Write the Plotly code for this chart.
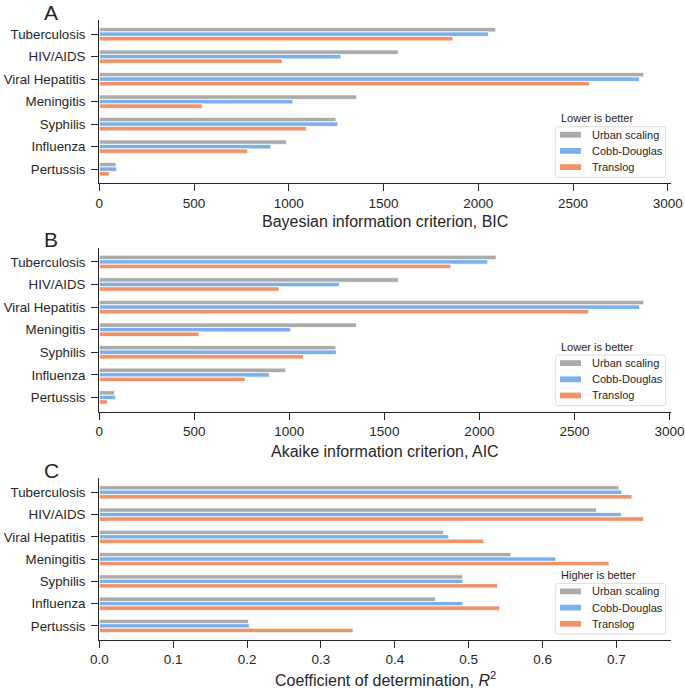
import plotly.graph_objects as go

diseases = ["Tuberculosis", "HIV/AIDS", "Viral Hepatitis", "Meningitis", "Syphilis", "Influenza", "Pertussis"]
models = ["Urban scaling", "Cobb-Douglas", "Translog"]
colors = ["#ababab", "#7bb0ea", "#f0936a"]

bic_urban = [2092, 1577, 2873, 1358, 1249, 988, 88]
bic_cobb = [2053, 1275, 2850, 1021, 1259, 905, 92]
bic_trans = [1866, 965, 2587, 543, 1092, 783, 53]

aic_urban = [2088, 1573, 2865, 1353, 1245, 981, 81]
aic_cobb = [2044, 1263, 2843, 1007, 1247, 894, 85]
aic_trans = [1850, 945, 2575, 524, 1074, 767, 42]

r2_urban = [0.7035, 0.673, 0.466, 0.557, 0.492, 0.455, 0.202]
r2_cobb = [0.707, 0.7065, 0.473, 0.618, 0.492, 0.492, 0.203]
r2_trans = [0.721, 0.737, 0.5205, 0.690, 0.539, 0.542, 0.3435]

panels = [
    ("A", [bic_urban, bic_cobb, bic_trans], "Bayesian information criterion, BIC", "Lower is better", [0, 500, 1000, 1500, 2000, 2500, 3000]),
    ("B", [aic_urban, aic_cobb, aic_trans], "Akaike information criterion, AIC", "Lower is better", [0, 500, 1000, 1500, 2000, 2500, 3000]),
    ("C", [r2_urban, r2_cobb, r2_trans], "Coefficient of determination, <i>R</i><sup>2</sup>", "Higher is better", [0.0, 0.1, 0.2, 0.3, 0.4, 0.5, 0.6, 0.7]),
]

W, H = 685, 692


def PX(px):
    return px / W


def PY(py):
    return 1 - py / H


tops = [20, 247.7, 478.3]
bottoms = [183.3, 411.7, 640]
x_left, x_right = 99.3, 671
xtitle_y = [222, 451, 679]
letter_y = [12.5, 239.5, 470]

FONT = "Liberation Sans, Arial, sans-serif"
TXT = "#262626"

fig = go.Figure()
annotations = []
shapes = []
layout = {}


def rounded_rect(x0, y0, x1, y1, r):
    def p(x, y):
        return f"{PX(x):.5f},{PY(y):.5f}"
    return (f"M {p(x0 + r, y0)} L {p(x1 - r, y0)} Q {p(x1, y0)} {p(x1, y0 + r)} "
            f"L {p(x1, y1 - r)} Q {p(x1, y1)} {p(x1 - r, y1)} "
            f"L {p(x0 + r, y1)} Q {p(x0, y1)} {p(x0, y1 - r)} "
            f"L {p(x0, y0 + r)} Q {p(x0, y0)} {p(x0 + r, y0)} Z")


for i, (letter, series, xtitle, legtitle, ticks) in enumerate(panels):
    ax = "" if i == 0 else str(i + 1)
    for name, vals, col in zip(models, series, colors):
        fig.add_trace(go.Bar(
            x=vals, y=diseases, orientation="h", name=name,
            marker=dict(color=col, line=dict(color="white", width=0.8)),
            xaxis="x" + ax, yaxis="y" + ax, showlegend=False,
        ))
    vmax = max(max(s) for s in series) * 1.05
    layout["xaxis" + ax] = dict(
        domain=[PX(x_left), PX(x_right)], anchor="y" + ax,
        range=[0, vmax], tickvals=ticks,
        tickformat=".1f" if i == 2 else "d",
        showline=True, linecolor=TXT, linewidth=1.3,
        ticks="outside", ticklen=7, tickwidth=1.3, tickcolor=TXT,
        showgrid=False, zeroline=False,
        tickfont=dict(family=FONT, size=13.5, color=TXT),
        automargin=False, fixedrange=True,
    )
    layout["yaxis" + ax] = dict(
        domain=[PY(bottoms[i]), PY(tops[i])], anchor="x" + ax,
        type="category", categoryorder="array", categoryarray=diseases,
        range=[6.63, -0.63],
        showline=True, linecolor=TXT, linewidth=1.3,
        ticks="outside", ticklen=7, tickwidth=1.3, tickcolor=TXT,
        ticklabelstandoff=3,
        showgrid=False, zeroline=False,
        tickfont=dict(family=FONT, size=13.3, color=TXT),
        automargin=False, fixedrange=True,
    )
    annotations.append(dict(
        text=xtitle, x=PX((x_left + x_right) / 2), y=PY(xtitle_y[i]),
        xref="paper", yref="paper", xanchor="center", yanchor="middle",
        showarrow=False, font=dict(family=FONT, size=16, color=TXT),
    ))
    annotations.append(dict(
        text=letter, x=PX(42), y=PY(letter_y[i]),
        xref="paper", yref="paper", xanchor="left", yanchor="middle",
        showarrow=False, font=dict(family=FONT, size=21, color=TXT),
    ))

    # legend box (layout decoration)
    bx0, bx1 = 555.7, 665.7
    by1 = bottoms[i] - 6
    by0 = by1 - 50.6
    shapes.append(dict(type="path", path=rounded_rect(bx0, by0, bx1, by1, 2.5),
                       xref="paper", yref="paper",
                       line=dict(color="#d9d9d9", width=0.9), fillcolor="white",
                       layer="above"))
    annotations.append(dict(
        text=legtitle, x=PX(559), y=PY(by0 - 8.3),
        xref="paper", yref="paper", xanchor="left", yanchor="middle",
        showarrow=False, font=dict(family=FONT, size=11, color=TXT),
    ))
    for k, (name, col) in enumerate(zip(models, colors)):
        cy = by0 + 8 + 16.2 * k
        shapes.append(dict(type="rect", xref="paper", yref="paper",
                           x0=PX(560), x1=PX(581), y0=PY(cy - 2.9), y1=PY(cy + 2.9),
                           fillcolor=col, line=dict(width=0), layer="above"))
        annotations.append(dict(
            text=name, x=PX(590), y=PY(cy),
            xref="paper", yref="paper", xanchor="left", yanchor="middle",
            showarrow=False, font=dict(family=FONT, size=11, color=TXT),
        ))

fig.update_layout(
    width=W, height=H,
    margin=dict(l=0, r=0, t=0, b=0),
    paper_bgcolor="white", plot_bgcolor="white",
    barmode="group", bargap=0.4, bargroupgap=0,
    showlegend=False,
    annotations=annotations, shapes=shapes,
    **layout,
)

fig.write_html("out.html", config={"displayModeBar": False},
               post_script="document.body.style.margin='0px';document.body.style.overflow='hidden';")
